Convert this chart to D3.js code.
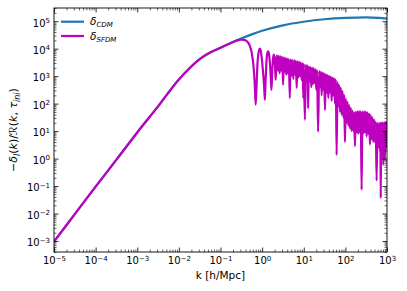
<!DOCTYPE html>
<html>
<head>
<meta charset="utf-8">
<script src="https://cdn.jsdelivr.net/npm/d3@7"></script>
<style>
  body { margin: 0; background: #fff; }
  text { font-family: "DejaVu Sans", sans-serif; }
</style>
</head>
<body>
<div id="chart"></div>
<script>
// values, in decades (log10 k, log10 delta)
var cdmLogK = [-5, -4.5, -4, -3.5, -3, -2.5, -2, -1.75, -1.5, -1.25, -1, -0.75, -0.5, -0.25, 0, 0.5, 1, 1.5, 2, 2.5, 2.8, 3];
var cdmLogD = [-3.02, -2.02, -1.02, -0.04, 0.95, 1.9, 2.88, 3.28, 3.62, 3.86, 4.03, 4.21, 4.37, 4.52, 4.65, 4.85, 4.98, 5.07, 5.12, 5.14, 5.12, 5.09];

var sfdmLogK = [-5, -4.5, -4, -3.5, -3, -2.5, -2, -1.75, -1.5, -1.25, -1, -0.75,
  -0.65, -0.57, -0.5, -0.43, -0.36, -0.3, -0.25, -0.21, -0.18, -0.155, -0.135, -0.11,
  -0.08, -0.055, -0.03, -0.005, 0.03, 0.05, 0.066, 0.08, 0.1, 0.12, 0.145, 0.17,
  0.195, 0.21, 0.225, 0.24, 0.26, 0.28, 0.3, 0.315, 0.325, 0.335, 0.35,
  0.36, 0.38, 0.40, 0.42, 0.44, 0.46, 0.48, 0.505, 0.52, 0.54, 0.56, 0.58, 0.60, 0.62, 0.64, 0.666,
  0.68, 0.70, 0.72, 0.75, 0.77, 0.79, 0.81, 0.83, 0.85, 0.87, 0.89, 0.91, 0.93, 0.95, 0.97, 0.99,
  1.00, 1.027, 1.05, 1.07, 1.09, 1.106, 1.12, 1.14, 1.16, 1.18, 1.20, 1.22, 1.24, 1.26, 1.28, 1.30,
  1.32, 1.345, 1.37, 1.39, 1.41, 1.43, 1.45, 1.47, 1.49, 1.51, 1.53, 1.55, 1.57, 1.59, 1.61, 1.63,
  1.65, 1.67, 1.69, 1.71, 1.73, 1.75, 1.77, 1.79, 1.81, 1.83, 1.85, 1.87, 1.89, 1.91, 1.93, 1.95,
  1.97, 1.99, 2.01, 2.03, 2.05, 2.07, 2.09, 2.11, 2.13, 2.15, 2.17, 2.19, 2.21, 2.23, 2.25, 2.27,
  2.29, 2.31, 2.33, 2.35, 2.37, 2.39, 2.41, 2.43, 2.45, 2.47, 2.49, 2.51, 2.53, 2.55, 2.57, 2.59,
  2.61, 2.63, 2.65, 2.67, 2.69, 2.71, 2.73, 2.75, 2.77, 2.79, 2.81, 2.83, 2.84, 2.85, 2.86, 2.87,
  2.89, 2.91, 2.93, 2.95, 2.97, 2.99, 3.0];
var sfdmLogD = [-3.02, -2.02, -1.02, -0.04, 0.95, 1.9, 2.88, 3.28, 3.62, 3.86, 4.03, 4.21,
  4.27, 4.31, 4.33, 4.32, 4.26, 4.12, 3.85, 3.4, 2.8, 1.96, 2.6, 3.5,
  3.9, 4.0, 3.9, 3.6, 3.0, 2.6, 2.14, 2.7, 3.4, 3.8, 3.9, 3.75,
  3.3, 2.9, 2.5, 3.1, 3.6, 3.78, 3.6, 3.2, 2.87, 3.3, 3.7,
  3.75, 3.2, 3.74, 3.1, 3.72, 3.2, 3.70, 2.68, 3.68, 3.15, 3.66, 3.05, 3.64, 3.1, 3.62, 2.2,
  3.60, 3.0, 3.59, 2.9, 3.58, 3.05, 3.56, 2.57, 3.54, 2.95, 3.52, 3.0, 3.49, 2.85, 3.47, 2.2,
  3.45, 1.41, 3.41, 2.8, 3.38, 1.83, 3.35, 2.8, 3.33, 2.6, 3.31, 2.7, 3.28, 2.75, 3.25, 2.5,
  3.22, 0.98, 3.18, 2.6, 3.16, 2.3, 3.13, 2.5, 3.10, 1.77, 3.07, 2.4, 3.04, 2.2, 3.01, 2.4,
  2.98, 2.1, 2.95, 2.3, 2.92, 2.0, 2.88, 0.13, 2.78, 1.9, 2.68, 1.7, 2.58, 1.6, 2.46, 1.5,
  2.32, 0.6, 2.18, 1.3, 2.06, 1.2, 1.95, 1.1, 1.85, 1.0, 1.75, 1.0, 1.68, 0.45, 1.70, 0.95,
  1.72, 0.9, 1.73, 0.95, 1.73, -1.14, 1.72, 0.9, 1.72, 0.95, 1.71, 0.8, 1.68, 0.9, 1.64, 0.51,
  1.58, 0.7, 1.50, 0.6, 1.42, 0.6, 1.34, -0.8, 1.30, 0.4, 1.29, 0.25, 1.30, -1.44, 1.31, 0.3,
  1.32, -0.23, 1.33, -0.05, 1.34, 0.4, 1.35];

var xTickExp = [-5, -4, -3, -2, -1, 0, 1, 2, 3];
var yTickExp = [-3, -2, -1, 0, 1, 2, 3, 4, 5];
var seriesNames = ['CDM', 'SFDM'];
var seriesColors = ['#1f77b4', '#bf00bf'];

var width = 407, height = 291;
var margin = { left: 54, right: 20, top: 8, bottom: 39 };

var svg = d3.select('#chart').append('svg')
  .attr('width', width)
  .attr('height', height);

var x = d3.scaleLog()
  .domain([1e-5, 1e3])
  .range([margin.left, width - margin.right]);
var y = d3.scaleLog()
  .domain([Math.pow(10, -3.40), Math.pow(10, 5.48)])
  .range([height - margin.bottom, margin.top]);

var toPoints = function(lk, ld) {
  return lk.map(function(k, i) { return [Math.pow(10, k), Math.pow(10, ld[i])]; });
};
var cdm = toPoints(cdmLogK, cdmLogD);
var sfdm = toPoints(sfdmLogK, sfdmLogD);

var line = d3.line()
  .x(function(d) { return x(d[0]); })
  .y(function(d) { return y(d[1]); })
  .curve(d3.curveMonotoneX);

var plot = svg.append('g');
plot.append('clipPath').attr('id', 'clip')
  .append('rect')
  .attr('x', margin.left).attr('y', margin.top)
  .attr('width', width - margin.left - margin.right)
  .attr('height', height - margin.top - margin.bottom);

var lines = plot.append('g').attr('clip-path', 'url(#clip)');
lines.append('path')
  .attr('d', line(cdm))
  .attr('fill', 'none')
  .attr('stroke', seriesColors[0])
  .attr('stroke-width', 2.2);
lines.append('path')
  .attr('d', line(sfdm))
  .attr('fill', 'none')
  .attr('stroke', seriesColors[1])
  .attr('stroke-width', 2.2)
  .attr('stroke-linejoin', 'round');

// minor ticks come from the log scale itself
var xMinor = x.ticks().filter(function(v) { return Math.abs(Math.log10(v) - Math.round(Math.log10(v))) > 1e-6; });
var yMinor = y.ticks().filter(function(v) { return Math.abs(Math.log10(v) - Math.round(Math.log10(v))) > 1e-6; });
var xMajor = xTickExp.map(function(e) { return Math.pow(10, e); });
var yMajor = yTickExp.map(function(e) { return Math.pow(10, e); });

var bottomY = height - margin.bottom, rightX = width - margin.right;

function addAxis(axis, transform, cls) {
  var g = svg.append('g').attr('transform', transform).attr('class', cls).call(axis);
  g.select('.domain').remove();
  g.selectAll('line').attr('stroke', '#000').attr('stroke-width', cls.indexOf('minor') >= 0 ? 0.6 : 0.8);
  return g;
}

addAxis(d3.axisBottom(x).tickValues(xMinor).tickSize(-2.5).tickFormat(''), 'translate(0,' + bottomY + ')', 'minor');
addAxis(d3.axisTop(x).tickValues(xMinor).tickSize(-2.5).tickFormat(''), 'translate(0,' + margin.top + ')', 'minor');
addAxis(d3.axisLeft(y).tickValues(yMinor).tickSize(-2.5).tickFormat(''), 'translate(' + margin.left + ',0)', 'minor');
addAxis(d3.axisRight(y).tickValues(yMinor).tickSize(-2.5).tickFormat(''), 'translate(' + rightX + ',0)', 'minor');
addAxis(d3.axisTop(x).tickValues(xMajor).tickSize(-4.5).tickFormat(''), 'translate(0,' + margin.top + ')', 'major');
addAxis(d3.axisRight(y).tickValues(yMajor).tickSize(-4.5).tickFormat(''), 'translate(' + rightX + ',0)', 'major');

var xAx = addAxis(d3.axisBottom(x).tickValues(xMajor).tickSize(-4.5).tickFormat(''), 'translate(0,' + bottomY + ')', 'major');
var yAx = addAxis(d3.axisLeft(y).tickValues(yMajor).tickSize(-4.5).tickFormat(''), 'translate(' + margin.left + ',0)', 'major');

function powLabel(sel, e) {
  sel.append('tspan').text('10');
  sel.append('tspan')
    .attr('dy', '-0.5em')
    .attr('font-size', '7px')
    .text(e < 0 ? '\u2212' + (-e) : String(e));
}

xAx.selectAll('.tick').each(function(d, i) {
  var t = d3.select(this).append('text')
    .attr('y', 12)
    .attr('fill', '#000')
    .attr('font-size', '10px')
    .attr('text-anchor', 'middle');
  powLabel(t, xTickExp[i]);
});
yAx.selectAll('.tick').each(function(d, i) {
  var t = d3.select(this).append('text')
    .attr('x', -4)
    .attr('y', 4.8)
    .attr('fill', '#000')
    .attr('font-size', '10px')
    .attr('text-anchor', 'end');
  powLabel(t, yTickExp[i]);
});

// frame
svg.append('rect')
  .attr('x', margin.left).attr('y', margin.top)
  .attr('width', rightX - margin.left)
  .attr('height', bottomY - margin.top)
  .attr('fill', 'none')
  .attr('stroke', '#000')
  .attr('stroke-width', 0.9);

// axis labels
svg.append('text')
  .attr('x', (margin.left + rightX) / 2)
  .attr('y', 279)
  .attr('text-anchor', 'middle')
  .attr('font-size', '10.5px')
  .text('k [h/Mpc]');

var yl = svg.append('text')
  .attr('transform', 'translate(17,' + ((margin.top + bottomY) / 2) + ') rotate(-90)')
  .attr('text-anchor', 'middle')
  .attr('font-size', '11px');
yl.append('tspan').text('\u2212');
yl.append('tspan').attr('font-style', 'italic').text('\u03b4');
yl.append('tspan').attr('font-style', 'italic').attr('font-size', '8px').attr('dy', 2.5).text('l');
yl.append('tspan').attr('dy', -2.5).text('(');
yl.append('tspan').attr('font-style', 'italic').text('k');
yl.append('tspan').text(')/');
yl.append('tspan').attr('font-style', 'italic').text('\u211b');
yl.append('tspan').text('(');
yl.append('tspan').attr('font-style', 'italic').text('k');
yl.append('tspan').text(', ');
yl.append('tspan').attr('font-style', 'italic').text('\u03c4');
yl.append('tspan').attr('font-style', 'italic').attr('font-size', '8px').attr('dy', 2.5).text('ini');
yl.append('tspan').attr('dy', -2.5).text(')');

// legend
var legend = svg.append('g');
seriesNames.forEach(function(name, i) {
  var ly = 21.7 + i * 14.3;
  legend.append('line')
    .attr('x1', 61).attr('x2', 84)
    .attr('y1', ly).attr('y2', ly)
    .attr('stroke', seriesColors[i])
    .attr('stroke-width', 2.2);
  var t = legend.append('text')
    .attr('x', 90).attr('y', ly + 3.5)
    .attr('font-size', '10.5px');
  t.append('tspan').attr('font-style', 'italic').text('\u03b4');
  t.append('tspan').attr('font-style', 'italic').attr('font-size', '7px').attr('dy', 2).text(name);
});
</script>
</body>
</html>
